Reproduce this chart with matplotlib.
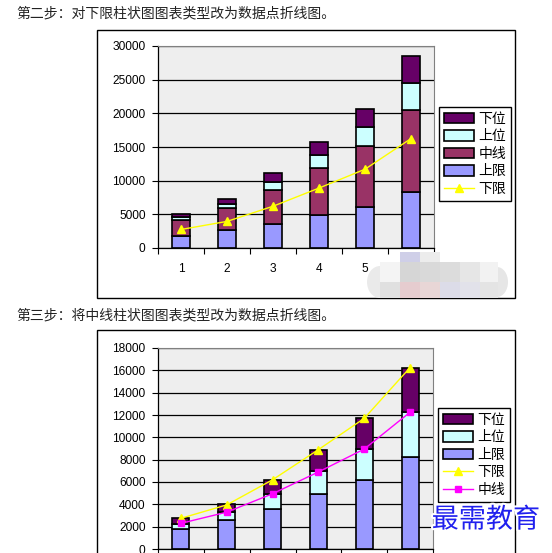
import matplotlib
matplotlib.use("Agg")
from matplotlib import pyplot as plt
from matplotlib.patches import Rectangle, Ellipse
import matplotlib.patheffects as pe
import numpy as np

plt.rcParams['font.family'] = ['Liberation Sans', 'Noto Sans CJK SC']

# data
cats = [1, 2, 3, 4, 5, 6]
shangxian = [1800, 2600, 3600, 4950, 6150, 8250]    # 上限
zhongxian = [2300, 3300, 4950, 6900, 8950, 12250]   # 中线
shangwei = [450, 700, 1300, 2000, 2850, 4000]       # 上位
xiawei = [550, 700, 1300, 1950, 2700, 4000]         # 下位
xiaxian = [2750, 3950, 6200, 8900, 11700, 16250]    # 下限

title1 = "第二步：对下限柱状图图表类型改为数据点折线图。"
title2 = "第三步：将中线柱状图图表类型改为数据点折线图。"

c_xw = '#660066'
c_sw = '#ccffff'
c_zx = '#993366'
c_sx = '#9999ff'
c_line1 = '#ffff00'
c_line2 = '#ff00ff'

W, H = 552, 553
fig = plt.figure(figsize=(W / 100, H / 100), dpi=100, facecolor='white')


def box(x0, y0, x1, y1):
    return [x0 / W, 1 - y1 / H, (x1 - x0) / W, (y1 - y0) / H]


cjk = ['Noto Sans CJK SC', 'DejaVu Sans']
fig.text(16 / W, 1 - 13 / H, title1, fontsize=10, family=cjk, va='center', color='#222222')
fig.text(16 / W, 1 - 315 / H, title2, fontsize=10, family=cjk, va='center', color='#222222')

# outer chart borders
fig.patches.append(Rectangle((97 / W, 1 - 298 / H), 418 / W, 268 / H, transform=fig.transFigure,
                             fill=False, edgecolor='black', lw=1))
fig.patches.append(Rectangle((97 / W, -0.01), 418 / W, 1 - 330 / H + 0.01, transform=fig.transFigure,
                             fill=False, edgecolor='black', lw=1))


def style_axes(ax, ymax, step, xlabels=True):
    ax.set_facecolor('#eeeeee')
    ax.set_xlim(0.5, 6.5)
    ax.set_ylim(0, ymax)
    ax.set_yticks(np.arange(0, ymax + 1, step))
    ax.yaxis.grid(True, color='black', lw=0.9)
    ax.set_axisbelow(True)
    for s in ['top', 'right']:
        ax.spines[s].set_color('#808080')
        ax.spines[s].set_linewidth(0.8)
    for s in ['left', 'bottom']:
        ax.spines[s].set_color('black')
        ax.spines[s].set_linewidth(0.9)
    ax.set_xticks(np.arange(0.5, 7, 1))
    ax.set_xticklabels([])
    if xlabels:
        ax.set_xticks(cats, minor=True)
        ax.set_xticklabels([str(c) for c in cats], minor=True)
    ax.tick_params(axis='x', which='major', direction='out', length=4, width=0.8)
    ax.tick_params(axis='x', which='minor', length=0, pad=11, labelsize=8.6)
    ax.tick_params(axis='y', direction='out', length=4, width=0.8, labelsize=8.6, pad=5)


bw = 0.37
kw = dict(width=bw, edgecolor='black', linewidth=1.2)
leg_kw = dict(loc='upper left', bbox_transform=fig.transFigure,
              prop={'family': cjk, 'size': 10}, frameon=True, fancybox=False, edgecolor='black',
              framealpha=1, borderpad=0.35, labelspacing=0.25, handlelength=2.2, handleheight=0.8,
              handletextpad=0.3, borderaxespad=0)

# chart 1
ax1 = fig.add_axes(box(158, 46, 434, 248))
style_axes(ax1, 30000, 5000)
b0 = np.zeros(6)
h_sx = ax1.bar(cats, shangxian, bottom=b0, color=c_sx, **kw)
b0 = b0 + shangxian
h_zx = ax1.bar(cats, zhongxian, bottom=b0, color=c_zx, **kw)
b0 = b0 + zhongxian
h_sw = ax1.bar(cats, shangwei, bottom=b0, color=c_sw, **kw)
b0 = b0 + shangwei
h_xw = ax1.bar(cats, xiawei, bottom=b0, color=c_xw, **kw)
h_xx, = ax1.plot(cats, xiaxian, color=c_line1, marker='^', markersize=6, lw=1)
ax1.legend([h_xw, h_sw, h_zx, h_sx, h_xx], ['下位', '上位', '中线', '上限', '下限'],
           bbox_to_anchor=(439 / W, 1 - 107 / H), **leg_kw)

# pixelated watermark on chart 1
blocks = [(400, 252, 20, 10, '#cfcfe8'), (420, 252, 20, 10, '#ececec'),
          (380, 262, 20, 20, '#f4f4f4'),
          (400, 262, 20, 20, '#d6d6d6'), (420, 262, 20, 20, '#d9d9d9'),
          (440, 262, 20, 20, '#dcdcdc'), (460, 262, 20, 20, '#e6e6e6'),
          (480, 262, 18, 20, '#f2f2f2'),
          (380, 282, 20, 16, '#e0e0e0'), (400, 282, 20, 16, '#e6cccf'),
          (420, 282, 20, 16, '#e8d6d6'), (440, 282, 20, 16, '#dcdce8'),
          (460, 282, 20, 16, '#e2e2ea'), (480, 282, 18, 16, '#e4e4e4')]
for (x, y, w, h, c) in blocks:
    fig.patches.append(Rectangle((x / W, 1 - (y + h) / H), w / W, h / H, transform=fig.transFigure,
                                 color=c, lw=0, zorder=5))
fig.patches.append(Ellipse((380 / W, 1 - 282 / H), 26 / W, 32 / H, transform=fig.transFigure,
                           color='#eaeaea', lw=0, zorder=4))
fig.patches.append(Ellipse((497 / W, 1 - 282 / H), 22 / W, 30 / H, transform=fig.transFigure,
                           color='#e6e6e6', lw=0, zorder=4))

# chart 2
ax2 = fig.add_axes(box(158, 348, 433, 549))
style_axes(ax2, 18000, 2000, xlabels=False)
b0 = np.zeros(6)
g_sx = ax2.bar(cats, shangxian, bottom=b0, color=c_sx, **kw)
b0 = b0 + shangxian
g_sw = ax2.bar(cats, shangwei, bottom=b0, color=c_sw, **kw)
b0 = b0 + shangwei
g_xw = ax2.bar(cats, xiawei, bottom=b0, color=c_xw, **kw)
g_xx, = ax2.plot(cats, xiaxian, color=c_line1, marker='^', markersize=6, lw=1)
g_zx, = ax2.plot(cats, zhongxian, color=c_line2, marker='s', markersize=4.5, lw=1)
ax2.legend([g_xw, g_sw, g_sx, g_xx, g_zx], ['下位', '上位', '上限', '下限', '中线'],
           bbox_to_anchor=(438 / W, 1 - 408 / H), **leg_kw)

fig.text(486 / W, 1 - 520 / H, "最需教育", fontsize=19.5, family=cjk, color='#2020ee',
         ha='center', va='center', zorder=10,
         path_effects=[pe.withStroke(linewidth=3, foreground='white')])

fig.savefig('out.png', dpi=100, facecolor='white')
